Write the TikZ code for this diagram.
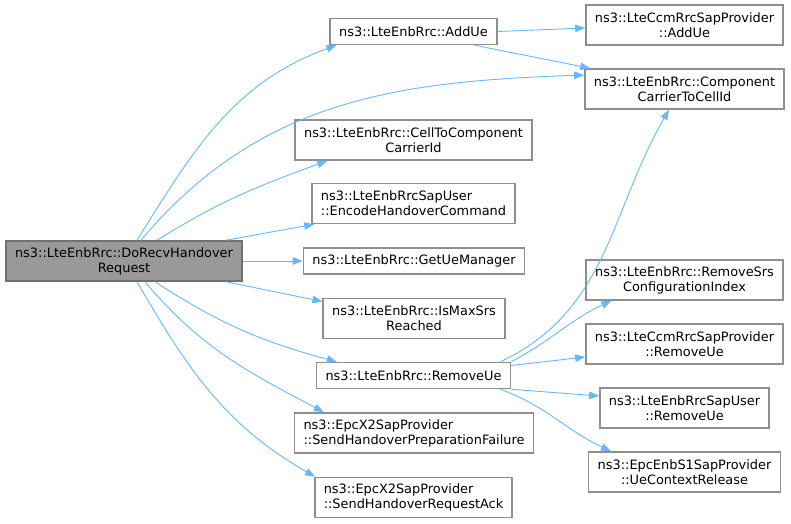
\documentclass[tikz,border=0pt]{standalone}
\usepackage{fontspec}
\setmainfont{DejaVu Sans}
\usetikzlibrary{arrows.meta}

\definecolor{edgeblue}{HTML}{63B8FF}
\definecolor{boxgray}{HTML}{8F8F8F}
\definecolor{maingray}{HTML}{999999}
\definecolor{mainborder}{HTML}{707070}

\begin{document}
\begin{tikzpicture}[x=1pt, y=1pt,
    fn/.style={draw=boxgray, line width=1.5pt, fill=white, inner xsep=9pt, inner ysep=0pt,
        minimum height=26pt, font=\fontsize{12.9}{15}\selectfont, align=center},
    fntwo/.style={fn, minimum height=40pt},
    fnmain/.style={fntwo, fill=maingray, draw=mainborder},
    call/.style={draw=edgeblue, line width=0.9pt, -{Triangle[length=10pt, width=7.5pt]}}]
\useasboundingbox (0,0) rectangle (791,523);

% caller
\node[fnmain] (main) at (124,262) {ns3::LteEnbRrc::DoRecvHandover\\Request};

% middle column
\node[fn] (addue) at (413.5,491.5) {ns3::LteEnbRrc::AddUe};
\node[fntwo] (cell2cc) at (413.5,383) {ns3::LteEnbRrc::CellToComponent\\CarrierId};
\node[fntwo, align=left] (encode) at (413.5,319.5) {ns3::LteEnbRrcSapUser\\::EncodeHandoverCommand};
\node[fn] (getue) at (414,262) {ns3::LteEnbRrc::GetUeManager};
\node[fntwo] (ismax) at (414,204.5) {ns3::LteEnbRrc::IsMaxSrs\\Reached};
\node[fn] (removeue) at (413.5,147.5) {ns3::LteEnbRrc::RemoveUe};
\node[fntwo, align=left] (prepfail) at (414,90) {ns3::EpcX2SapProvider\\::SendHandoverPreparationFailure};
\node[fntwo, align=left] (reqack) at (413.5,25.5) {ns3::EpcX2SapProvider\\::SendHandoverRequestAck};

% right column
\node[fntwo] (ccmadd) at (684.5,498) {ns3::LteCcmRrcSapProvider\\::AddUe};
\node[fntwo] (cc2cell) at (684.5,434) {ns3::LteEnbRrc::Component\\CarrierToCellId};
\node[fntwo] (removesrs) at (684.5,243) {ns3::LteEnbRrc::RemoveSrs\\ConfigurationIndex};
\node[fntwo] (ccmremove) at (684.5,179) {ns3::LteCcmRrcSapProvider\\::RemoveUe};
\node[fntwo] (sapremove) at (684.5,115) {ns3::LteEnbRrcSapUser\\::RemoveUe};
\node[fntwo] (uectx) at (684.5,51) {ns3::EpcEnbS1SapProvider\\::UeContextRelease};

% calls from the caller
\draw[call] ([xshift=13]main.north) to[out=58, in=200] ([xshift=7]addue.south west);
\draw[call] ([xshift=17]main.north) to[out=50, in=182] ([yshift=14]cc2cell.west);
\draw[call] ([xshift=33]main.north) to[out=32, in=200] ([xshift=33]cell2cc.south west);
\draw[call] ([xshift=-17]main.north east) -- ([xshift=3]encode.south west);
\draw[call] (main.east) -- (getue.west);
\draw[call] ([xshift=-17]main.south east) -- ([yshift=17]ismax.west);
\draw[call] ([xshift=31]main.south) to[out=-33, in=165] ([xshift=21]removeue.north west);
\draw[call] ([xshift=21]main.south) to[out=-50, in=152] ([xshift=30]prepfail.north west);
\draw[call] ([xshift=13]main.south) to[out=-60, in=150] ([xshift=1]reqack.north west);

% calls further down
\draw[call] (addue.east) -- ([yshift=-3]ccmadd.west);
\draw[call] ([xshift=-23]addue.south east) -- ([xshift=6]cc2cell.north west);
\draw[call] ([xshift=-11]removeue.north east) to[out=25, in=240] ([xshift=-15.5]cc2cell.south);
\draw[call] (removeue.north east) to[out=28, in=205] ([xshift=26]removesrs.south west);
\draw[call] ([yshift=10]removeue.east) -- ([yshift=-13]ccmremove.west);
\draw[call] (removeue.south east) -- ([yshift=12]sapremove.west);
\draw[call] ([xshift=-11]removeue.south east) to[out=-20, in=155] ([xshift=23]uectx.north west);
\end{tikzpicture}
\end{document}
